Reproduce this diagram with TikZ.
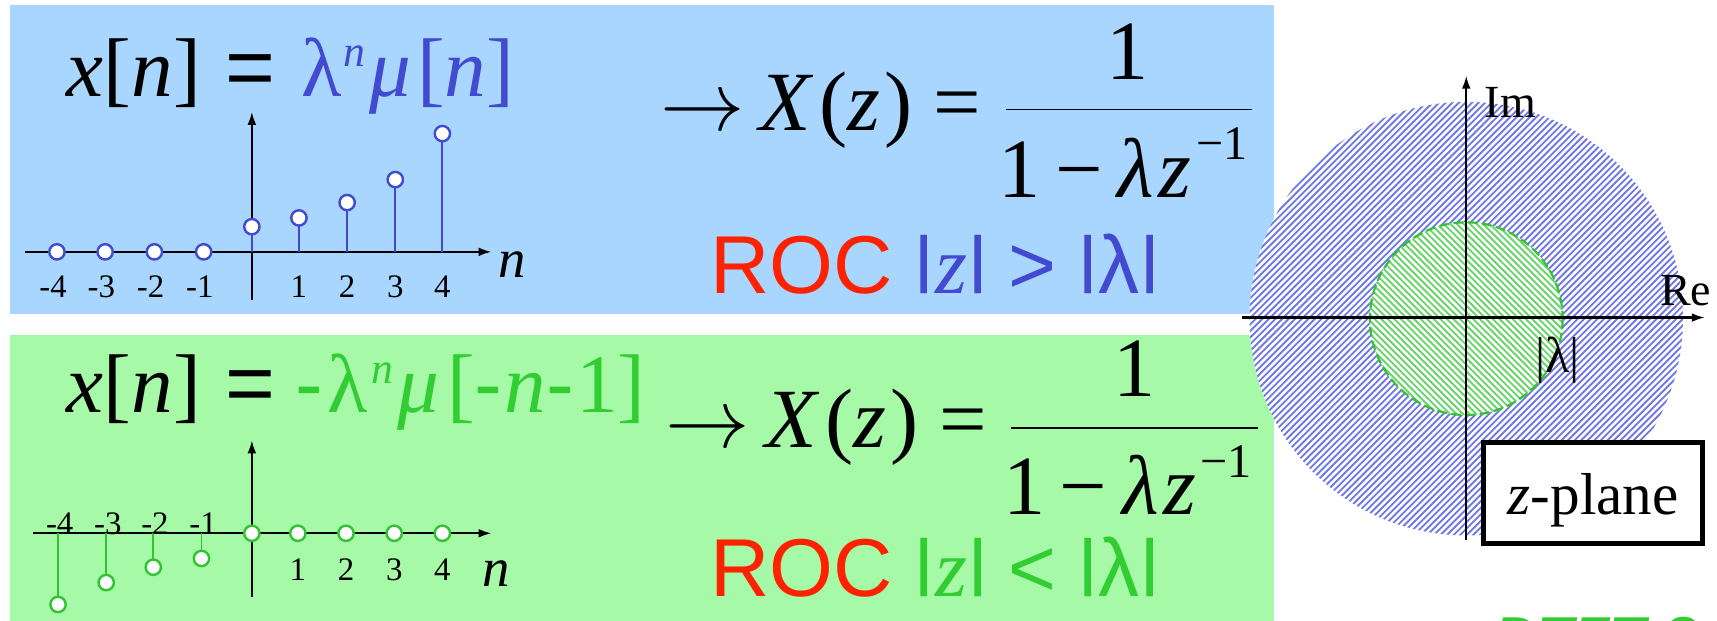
\RequirePackage{fix-cm}
\documentclass[tikz,border=0pt]{standalone}
\usepackage{graphicx}
\usepackage{fontspec}
\setmainfont{Liberation Serif}
\newfontfamily\arl{Liberation Sans}
\usetikzlibrary{arrows.meta,calc}
\definecolor{bgblue}{RGB}{169,214,255}
\definecolor{bggreen}{RGB}{166,249,166}
\definecolor{tblue}{RGB}{66,74,208}
\definecolor{tgreen}{RGB}{50,205,50}
\definecolor{sgreen}{RGB}{50,195,50}
\definecolor{tred}{RGB}{255,34,0}
\definecolor{hblue}{RGB}{112,122,226}
\definecolor{hgreen}{RGB}{105,212,105}
\newcommand\fsz[1]{\fontsize{#1pt}{#1pt}\selectfont}
\newcommand\vbr{{\arl\raisebox{0.16em}{\scalebox{1}[0.76]{|}}}}
\begin{document}
\begin{tikzpicture}[x=1pt,y=-1pt,
  every node/.style={inner sep=0pt, outer sep=0pt},
  axis/.style={line width=2pt, -{Latex[length=12pt,width=8pt]}},
  stemB/.style={tblue, line width=1.7pt},
  stemG/.style={sgreen, line width=1.7pt},
  dotB/.style={circle, draw=tblue, fill=white, line width=2.2pt, minimum size=14pt},
  dotG/.style={circle, draw=sgreen, fill=white, line width=2.2pt, minimum size=14pt},
  tick/.style={font=\fsz{30}, anchor=base},
  hatchB/.style={hblue, line width=1.7pt},
  hatchG/.style={hgreen, line width=1.7pt}]
\useasboundingbox (0,0) rectangle (1568,567);
\fill[white] (0,0) rectangle (1568,567);

% panels
\fill[bgblue] (9,5) rectangle (1163,287);
\fill[bggreen] (9,306) rectangle (1163,567);

% ---------- top panel ----------
\node[anchor=base west] (eqA1) at (61,88) {\fsz{76}\textit{x}[\textit{n}]};
\node[anchor=base west] (eqA2) at (206,88) {\fsz{78}\arl =};
\node[anchor=base west, text=tblue] (eqA3) at (275,88) {\fsz{76}λ\hspace{2pt}\raisebox{27pt}{\fsz{40}\itshape n}\hspace{4pt}\textit{μ}\hspace{5pt}[\textit{n}]};

\coordinate (A1l) at (23,230);
\coordinate (A1r) at (449,230);
\draw[axis] (A1l) -- (A1r);
\coordinate (V1b) at (230,274);
\coordinate (V1t) at (230,102);
\draw[axis] (V1b) -- (V1t);
\node[font=\fsz{50}\itshape, anchor=base west] (nA) at (455,253) {n};
\foreach \x [count=\i] in {52,96,141,186}
  \node[dotB] (pA\i) at (\x,230) {};
\foreach \x/\h [count=\i] in {230/207,273/199,317/185,361/164,404/122}{
  \coordinate (bA\i) at (\x,230);
  \node[dotB] (sA\i) at (\x,\h) {};
  \draw[stemB] (bA\i) -- (sA\i);
}
\foreach \x/\t [count=\i] in {52/-4,96/-3,141/-2,186/-1}
  \node[tick, anchor=base east] (tA\i) at (\x+9,272) {\t};
\foreach \x/\t [count=\i] in {273/1,317/2,361/3,404/4}
  \node[tick] (uA\i) at (\x,272) {\t};

\node[anchor=base west] (arA) at (603,119) {\fsz{77}$\rightarrow$};
\node[anchor=base west] (XA) at (694,119) {\fsz{77}\textit{X}\hspace{5pt}(\textit{z}\hspace{4pt}) =};
\coordinate (fAl) at (919,100);
\coordinate (fAr) at (1143,100);
\draw[line width=1.5pt] (fAl) -- (fAr);
\node[anchor=base] (numA) at (1030,73) {\fsz{77}1};
\node[anchor=base west] (denA) at (912,180) {\fsz{77}1\hspace{13pt}−\hspace{14pt}\textit{λ}\hspace{4pt}\textit{z}\hspace{4pt}\raisebox{34pt}{\fsz{44}−1}};
\node[anchor=base west] (rocA) at (649,268) {\fsz{75}{\arl\color{tred}ROC} {\color{tblue}\vbr\textit{z}\vbr{} {\arl >} \vbr{\arl λ}\vbr}};

% ---------- bottom panel ----------
\node[anchor=base west] (eqB1) at (61,377) {\fsz{76}\textit{x}[\textit{n}]};
\node[anchor=base west] (eqB2) at (206,377) {\fsz{78}\arl =};
\node[anchor=base west, text=tgreen] (eqB3) at (270,377) {\fsz{76}{\arl -}\hspace{4pt}λ\hspace{3pt}\raisebox{27pt}{\fsz{40}\itshape n}\hspace{4pt}\textit{μ}\hspace{7pt}[{\arl -}\hspace{2pt}\textit{n}{\arl -}\hspace{2pt}1]};

\coordinate (A2l) at (30,487);
\coordinate (A2r) at (449,487);
\draw[axis] (A2l) -- (A2r);
\coordinate (V2b) at (230,545);
\coordinate (V2t) at (230,402);
\draw[axis] (V2b) -- (V2t);
\node[font=\fsz{50}\itshape, anchor=base west] (nB) at (441,536) {n};
\foreach \x/\h [count=\i] in {53/552,97/532,140/518,184/510}{
  \coordinate (bB\i) at (\x,487);
  \node[dotG] (sB\i) at (\x,\h) {};
  \draw[stemG] (bB\i) -- (sB\i);
}
\foreach \x [count=\i] in {230,272,316,360,404}
  \node[dotG] (pB\i) at (\x,487) {};
\foreach \x/\t [count=\i] in {53/-4,97/-3,140/-2,184/-1}
  \node[tick, anchor=base east] (tB\i) at (\x+14,488) {\t};
\foreach \x/\t [count=\i] in {272/1,316/2,360/3,404/4}
  \node[tick] (uB\i) at (\x,530) {\t};

\node[anchor=base west] (arB) at (608,409) {\fsz{77}$\rightarrow$};
\node[anchor=base west] (XB) at (699,409) {\fsz{77}\textit{X}\hspace{5pt}(\textit{z}\hspace{4pt}) =};
\coordinate (fBl) at (923,391);
\coordinate (fBr) at (1149,391);
\draw[line width=1.5pt] (fBl) -- (fBr);
\node[anchor=base] (numB) at (1036,362) {\fsz{77}1};
\node[anchor=base west] (denB) at (916,470) {\fsz{77}1\hspace{13pt}−\hspace{14pt}\textit{λ}\hspace{4pt}\textit{z}\hspace{4pt}\raisebox{34pt}{\fsz{44}−1}};
\node[anchor=base west] (rocB) at (649,545) {\fsz{75}{\arl\color{tred}ROC} {\color{tgreen}\vbr\textit{z}\vbr{} {\arl <} \vbr{\arl λ}\vbr}};

% ---------- z-plane ----------
\coordinate (O) at (1339,291);
\begin{scope}
  \clip (O) circle (198);
  \fill[white] (O) circle (198);
  \foreach \i in {-68,...,68}
    \draw[hatchB] ($(O)+(\i*6,0)+(-210,210)$) -- ++(420,-420);
\end{scope}
\begin{scope}
  \clip (O) circle (88);
  \fill[white] (O) circle (88);
  \foreach \i in {-32,...,32}
    \draw[hatchG] ($(O)+(\i*6,0)+(-95,-95)$) -- ++(190,190);
\end{scope}
\draw[sgreen, line width=2pt, dash pattern=on 9pt off 4pt] (O) circle (88);

\coordinate (Imb) at (1339,493);
\coordinate (Imt) at (1339,69);
\coordinate (Rel) at (1134,290);
\coordinate (Rer) at (1557,290);
\draw[axis] (Imb) -- (Imt);
\draw[axis] (Rel) -- (Rer);
\node[anchor=base west, font=\fsz{42}] (Im) at (1356,107) {Im};
\node[anchor=base west, font=\fsz{42}] (Re) at (1516,279) {Re};
\node[anchor=base west, font=\fsz{46}] (lam) at (1402,340) {|λ|};

\node[draw, line width=4.5pt, fill=white, minimum width=200pt, minimum height=92pt] (zp) at (1455,450) {};
\node[anchor=base, font=\fsz{54}] (zpt) at (1455,470) {\textit{z}-plane};

% cut-off caption at the bottom edge
\begin{scope}
  \clip (0,0) rectangle (1568,567);
  \node[anchor=base west, font=\fsz{54}\arl\bfseries\itshape, text=tgreen] (dtft) at (1365,601) {DTFT ?};
\end{scope}
\end{tikzpicture}
\end{document}
